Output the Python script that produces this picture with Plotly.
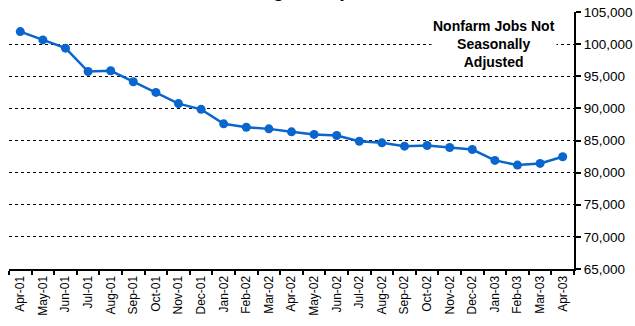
import plotly.graph_objects as go

# Monthly nonfarm payroll jobs (thousands), not seasonally adjusted
months = ["Apr-01", "May-01", "Jun-01", "Jul-01", "Aug-01", "Sep-01", "Oct-01",
          "Nov-01", "Dec-01", "Jan-02", "Feb-02", "Mar-02", "Apr-02", "May-02",
          "Jun-02", "Jul-02", "Aug-02", "Sep-02", "Oct-02", "Nov-02", "Dec-02",
          "Jan-03", "Feb-03", "Mar-03", "Apr-03"]
jobs = [101950, 100660, 99370, 95740, 95850, 94150, 92490,
        90740, 89850, 87590, 87060, 86810, 86350, 85950,
        85780, 84890, 84640, 84120, 84220, 83910, 83600,
        81900, 81170, 81430, 82470]

y_ticks = list(range(65000, 105001, 5000))

fig = go.Figure()
fig.add_trace(go.Scatter(
    x=months, y=jobs, mode="lines+markers",
    line=dict(color="#0a66cc", width=2.5),
    marker=dict(color="#0a66cc", size=9),
    showlegend=False, cliponaxis=False,
))

fig.update_layout(
    width=635, height=326,
    margin=dict(l=9, r=61, t=12, b=57, autoexpand=False),
    paper_bgcolor="white", plot_bgcolor="white",
    font=dict(family="Arial, Liberation Sans, sans-serif", color="black"),
    xaxis=dict(
        type="category", tickangle=-90, tickson="boundaries",
        ticks="outside", ticklen=4, tickwidth=2, tickcolor="black",
        showline=True, linecolor="black", linewidth=2,
        showgrid=False, tickfont=dict(size=12), automargin=False,
        range=[-0.5, len(months) - 0.5],
    ),
    yaxis=dict(
        side="right", range=[65000, 105000], tickvals=y_ticks,
        tickformat=",", ticks="outside", ticklen=5, tickwidth=2,
        tickcolor="black", showline=True, linecolor="black", linewidth=2,
        showgrid=True, gridcolor="black", gridwidth=1, griddash="dot",
        zeroline=False, tickfont=dict(size=13.5), automargin=False,
    ),
    annotations=[
        dict(text="<b>Nonfarm Jobs Not<br>Seasonally<br>Adjusted</b>",
             xref="paper", yref="paper", x=0.858, y=0.985,
             xanchor="center", yanchor="top", showarrow=False,
             font=dict(size=14, color="black"), bgcolor="white",
             borderpad=1, align="center"),
        dict(text="<b>Hiring Slump</b>",
             xref="paper", yref="paper", x=0.496, y=1,
             xanchor="center", yanchor="bottom", yshift=9,
             showarrow=False, font=dict(size=20, color="black")),
    ],
)

fig.write_html("out.html")
